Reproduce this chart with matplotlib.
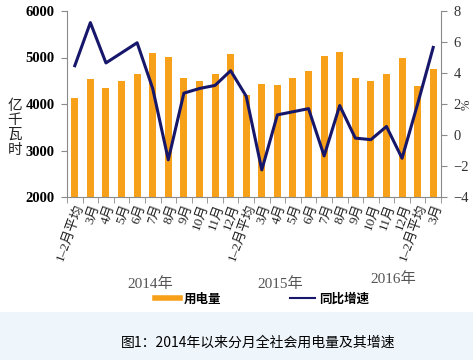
import matplotlib.pyplot as plt
import matplotlib.patches as mpatches
from matplotlib.lines import Line2D

plt.rcParams['font.family'] = ['Liberation Serif', 'Noto Sans CJK SC', 'DejaVu Sans']

months = ['1–2月平均', '3月', '4月', '5月', '6月', '7月', '8月', '9月', '10月', '11月', '12月']
categories = months + months + ['1–2月平均', '3月']
usage = [4120, 4535, 4350, 4500, 4635, 5090, 5020, 4560, 4500, 4635, 5080,
         4190, 4440, 4410, 4560, 4710, 5030, 5125, 4560, 4500, 4655, 5000,
         4385, 4750]
growth = [4.47, 7.25, 4.65, 5.3, 5.95, 3.0, -1.6, 2.7, 3.0, 3.2, 4.15,
          2.5, -2.25, 1.3, 1.5, 1.7, -1.35, 1.9, -0.2, -0.3, 0.55, -1.5,
          2.0, 5.65]
years = ['2014年', '2015年', '2016年']

bar_color = '#F7A11A'
line_color = '#16166B'
axis_gray = '#8a8a8a'

fig = plt.figure(figsize=(4.73, 3.6), dpi=100)
fig.patch.set_facecolor('white')
# light blue caption band
fig.patches.append(mpatches.Rectangle((0, 0), 1, 48/360, transform=fig.transFigure,
                                      facecolor='#EEF5FB', edgecolor='none', zorder=0))

ax = fig.add_axes([67/473, 1-197/360, (441-67)/473, (197-11)/360])
x = list(range(len(categories)))
ax.bar(x, usage, width=0.45, color=bar_color, zorder=2)
ax.set_xlim(-0.5, len(categories)-0.5)
ax.set_ylim(2000, 6000)
ax.set_yticks([2000, 3000, 4000, 5000, 6000])
ax.set_yticklabels(['2000', '3000', '4000', '5000', '6000'], fontweight='bold', fontsize=10.5)
ax.set_xticks(x)
ax.set_xticklabels(categories, rotation=70, ha='right', va='top', rotation_mode='anchor',
                   fontsize=9.5, color='#222222')
ax.set_xticks([i - 0.5 for i in range(len(categories)+1)], minor=True)
ax.tick_params(axis='x', which='major', length=0, pad=4)
ax.tick_params(axis='x', which='minor', length=4, color=axis_gray, direction='out')
ax.tick_params(axis='y', length=4, color=axis_gray, pad=5)
for s in ['top', 'right']:
    ax.spines[s].set_visible(False)
for s in ['left', 'bottom']:
    ax.spines[s].set_color(axis_gray)

ax2 = ax.twinx()
ax2.plot(x, growth, color=line_color, linewidth=2.2, zorder=3)
ax2.set_ylim(-4, 8)
ax2.set_yticks([-4, -2, 0, 2, 4, 6, 8])
ax2.set_yticklabels(['−4', '−2', '0', '2', '4', '6', '8'], fontsize=10.5, color='#333333')
ax2.tick_params(axis='y', length=4, color=axis_gray, pad=5)
for s in ['top', 'left', 'bottom']:
    ax2.spines[s].set_visible(False)
ax2.spines['right'].set_color(axis_gray)

fig.text(467/473, 1-105/360, '%', rotation=90, fontsize=9, color='#333333',
         ha='center', va='center')
fig.text(15/473, 1-128/360, '亿\n千\n瓦\n时', fontsize=10.5, ha='center', va='center',
         linespacing=1.15, color='#222222')

fig.text(150/473, 1-284/360, years[0], fontsize=11, color='#555555', ha='center', va='center')
fig.text(280/473, 1-284/360, years[1], fontsize=11, color='#555555', ha='center', va='center')
fig.text(393/473, 1-279/360, years[2], fontsize=11, color='#555555', ha='center', va='center')

handles = [Line2D([0], [0], color=bar_color, linewidth=4),
           Line2D([0], [0], color=line_color, linewidth=1.5)]
fig.legend(handles, ['用电量', '同比增速'], loc='center', bbox_to_anchor=(262/473, 1-299/360),
           ncol=2, frameon=False, columnspacing=5.5, handlelength=2.0,
           handletextpad=0.3, prop={'family': ['Noto Sans CJK SC'], 'weight': 'bold', 'size': 9})

fig.text(258/473, 1-343/360, '图1：2014年以来分月全社会用电量及其增速', fontsize=10,
         ha='center', va='center', family=['Noto Sans CJK SC'])

fig.savefig('out.png', dpi=100)
